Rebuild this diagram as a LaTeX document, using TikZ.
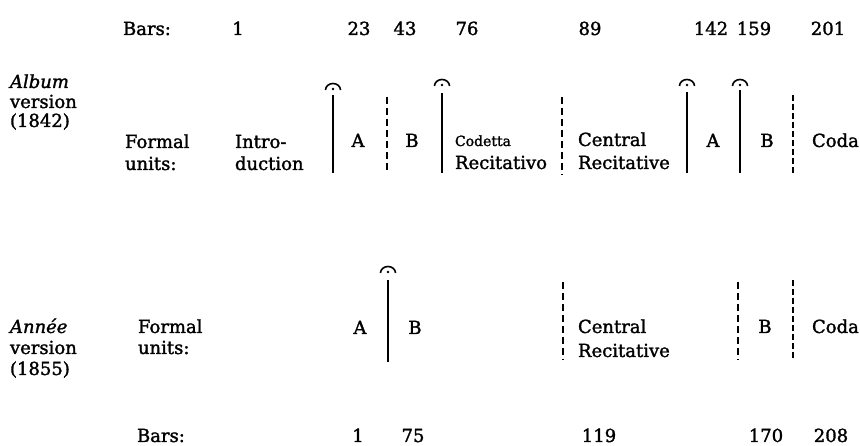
\documentclass[tikz,border=0pt]{standalone}
\usepackage{fontspec}
\setmainfont{DejaVu Serif}[FakeBold=1.6]
\begin{document}
\begin{tikzpicture}[x=1pt,y=-1pt,
  txt/.style={inner sep=0pt,outer sep=0pt,font=\fontsize{18}{22}\selectfont},
  lt/.style={txt,anchor=base west},
  ct/.style={txt,anchor=base},
  small/.style={inner sep=0pt,outer sep=0pt,anchor=base west,font=\fontsize{14}{17}\selectfont},
  solidbar/.style={line width=2.2pt},
  dashbar/.style={line width=2pt,dash pattern=on 7pt off 4pt},
  thinbar/.style={line width=1.2pt,dash pattern=on 6pt off 3pt},
  fermata/.style={line width=1.6pt}]
\useasboundingbox (0,0) rectangle (860,446);
\newcommand{\myfermata}[2]{%
  \draw[fermata] (#1-7.5,#2) arc (180:0:7.5pt and 6.5pt);
  \fill (#1,#2-1) circle (1.4pt);}

% ---------- Album version ----------
\node[lt] (b1) at (123,35) {Bars:};
\node[ct] (n1) at (238,35) {1};
\node[ct] (n23) at (359,35) {23};
\node[ct] (n43) at (405,35) {43};
\node[ct] (n76) at (467,35) {76};
\node[ct] (n89) at (590,35) {89};
\node[ct] (n142) at (711,35) {142};
\node[ct] (n159) at (754,35) {159};
\node[ct] (n201) at (828,35) {201};

\node[lt] (al1) at (10,88) {\itshape Album};
\node[lt] (al2) at (10,108) {version};
\node[lt] (al3) at (10,127) {(1842)};

\node[lt] (fu1) at (125,148) {Formal};
\node[lt] (fu2) at (125,170) {units:};
\node[lt] (in1) at (235,148) {Intro-};
\node[lt] (in2) at (235,170) {duction};
\node[ct] (a1) at (358,147) {A};
\node[ct] (bb1) at (412,147) {B};
\node[small] (cd1) at (455,146) {Codetta};
\node[lt] (cd2) at (455,169) {Recitativo};
\node[lt] (cr1) at (578,146) {Central};
\node[lt] (cr2) at (578,169) {Recitative};
\node[ct] (a2) at (713,147) {A};
\node[ct] (bb2) at (767,147) {B};
\node[lt] (co1) at (812,147) {Coda};

\coordinate (t1) at (333,95);  \coordinate (u1) at (333,173);
\coordinate (t2) at (387,97);  \coordinate (u2) at (387,173);
\coordinate (t3) at (442,93);  \coordinate (u3) at (442,173);
\coordinate (t4) at (562,97);  \coordinate (u4) at (562,175);
\coordinate (t5) at (687,92);  \coordinate (u5) at (687,173);
\coordinate (t6) at (740,90);  \coordinate (u6) at (740,173);
\coordinate (t7) at (793,95);  \coordinate (u7) at (793,175);
\draw[solidbar] (t1) -- (u1);
\draw[dashbar] (t2) -- (u2);
\draw[solidbar] (t3) -- (u3);
\draw[dashbar] (t4) -- (u4);
\draw[solidbar] (t5) -- (u5);
\draw[solidbar] (t6) -- (u6);
\draw[thinbar] (t7) -- (u7);
\myfermata{333}{90}
\myfermata{442}{86}
\myfermata{687}{86}
\myfermata{740}{86}

% ---------- Annee version ----------
\node[lt] (an1) at (10,333) {\itshape Année};
\node[lt] (an2) at (10,354) {version};
\node[lt] (an3) at (10,375) {(1855)};
\node[lt] (fv1) at (138,333) {Formal};
\node[lt] (fv2) at (138,354) {units:};
\node[ct] (a3) at (360,334) {A};
\node[ct] (bb3) at (415,334) {B};
\node[lt] (cr3) at (578,333) {Central};
\node[lt] (cr4) at (578,357) {Recitative};
\node[ct] (bb4) at (765,333) {B};
\node[lt] (co2) at (812,333) {Coda};

\coordinate (s1) at (388,280); \coordinate (v1) at (388,362);
\coordinate (s2) at (563,282); \coordinate (v2) at (563,360);
\coordinate (s3) at (738,282); \coordinate (v3) at (738,360);
\coordinate (s4) at (793,280); \coordinate (v4) at (793,360);
\draw[solidbar] (s1) -- (v1);
\draw[dashbar] (s2) -- (v2);
\draw[dashbar] (s3) -- (v3);
\draw[thinbar] (s4) -- (v4);
\myfermata{388}{273}

\node[lt] (b2) at (137,442) {Bars:};
\node[ct] (m1) at (358,442) {1};
\node[ct] (m75) at (413,442) {75};
\node[ct] (m119) at (599,442) {119};
\node[ct] (m170) at (766,442) {170};
\node[ct] (m208) at (831,442) {208};
\end{tikzpicture}
\end{document}
